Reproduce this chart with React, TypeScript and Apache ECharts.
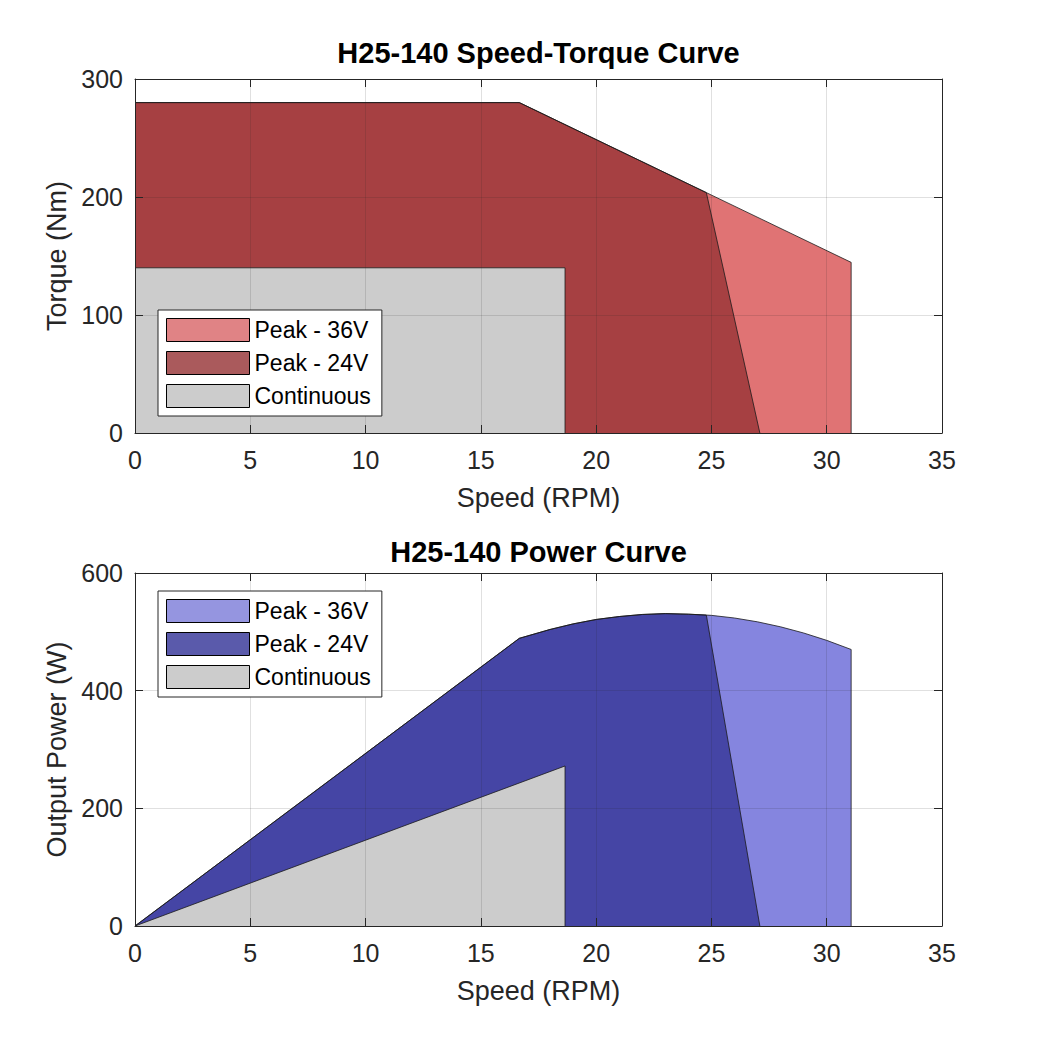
import { useEffect, useRef } from 'react'
import * as echarts from 'echarts'

// 转速-扭矩 / 功率曲线 (H25-140)
const seriesNames = ['Peak - 36V', 'Peak - 24V', 'Continuous']

// 扭矩曲线 [转速 RPM, 扭矩 Nm]
const torquePeak36: [number, number][] = [
  [0, 280], [16.67, 280], [24.78, 203.7], [31.06, 144.6], [31.06, 0],
]
const torquePeak24: [number, number][] = [
  [0, 280], [16.67, 280], [24.78, 203.7], [27.1, 0],
]
const torqueContinuous: [number, number][] = [
  [0, 140], [18.65, 140], [18.65, 0],
]

// 功率曲线 [转速 RPM, 功率 W]
const powerPeak36: [number, number][] = [
  [0, 0], [16.67, 489], [18, 504], [19, 513.5], [20, 521], [21, 526], [22, 529.5],
  [23, 531], [24, 530], [24.78, 528.5], [25, 528], [26, 523.5], [27, 517],
  [28, 508.5], [29, 498], [30, 485.5], [31.06, 470], [31.06, 0],
]
const powerPeak24: [number, number][] = [
  [0, 0], [16.67, 489], [18, 504], [19, 513.5], [20, 521], [21, 526], [22, 529.5],
  [23, 531], [24, 530], [24.78, 528.5], [27.1, 0],
]
const powerContinuous: [number, number][] = [
  [0, 0], [18.65, 272], [18.65, 0],
]

const speedRange = { min: 0, max: 35, interval: 5 }
const torqueRange = { min: 0, max: 300, interval: 100 }
const powerRange = { min: 0, max: 600, interval: 200 }

const titles = ['H25-140 Speed-Torque Curve', 'H25-140 Power Curve']
const xName = 'Speed (RPM)'
const yNames = ['Torque (Nm)', 'Output Power (W)']

const redFills = ['#E07374', '#A64042', '#CCCCCC']
const redSwatches = ['#E08385', '#AA5A5C', '#CCCCCC']
const blueFills = ['#8585DF', '#4545A5', '#CCCCCC']
const blueSwatches = ['#9595E0', '#5A5AAB', '#CCCCCC']

const axisColor = '#262626'
const gridColor = 'rgba(38,38,38,0.14)'
const fontFamily = '"Liberation Sans", Arial, Helvetica, sans-serif'

const GRID_LEFT = 135
const GRID_WIDTH = 807
const GRID_TOPS = [79, 573]
const GRID_HEIGHTS = [354, 353]

function App() {
  const chartRef = useRef<HTMLDivElement>(null)

  useEffect(() => {
    if (!chartRef.current) return
    const chart = echarts.init(chartRef.current, undefined, { renderer: 'svg' })

    const xAxes: any[] = []
    const yAxes: any[] = []
    const yRanges = [torqueRange, powerRange]

    ;[0, 1].forEach(g => {
      const base = {
        gridIndex: g,
        type: 'value',
        z: 3,
        axisLine: { show: true, onZero: false, lineStyle: { color: axisColor, width: 1 } },
        axisTick: { show: true, inside: true, length: 8, lineStyle: { color: axisColor, width: 1 } },
      }
      xAxes.push({
        ...base,
        ...speedRange,
        position: 'bottom',
        name: xName,
        nameLocation: 'middle',
        nameGap: 51,
        nameTextStyle: { fontSize: 27, color: axisColor, fontFamily },
        axisLabel: { fontSize: 25, color: axisColor, margin: 14, fontFamily },
        splitLine: { show: true, lineStyle: { color: gridColor, width: 1 } },
      })
      xAxes.push({
        ...base,
        ...speedRange,
        position: 'top',
        axisLabel: { show: false },
        splitLine: { show: false },
      })
      yAxes.push({
        ...base,
        ...yRanges[g],
        position: 'left',
        name: yNames[g],
        nameLocation: 'middle',
        nameGap: 63,
        nameTextStyle: { fontSize: 27, color: axisColor, fontFamily },
        axisLabel: { fontSize: 25, color: axisColor, margin: 12, fontFamily },
        splitLine: { show: true, lineStyle: { color: gridColor, width: 1 } },
      })
      yAxes.push({
        ...base,
        ...yRanges[g],
        position: 'right',
        axisLabel: { show: false },
        splitLine: { show: false },
      })
    })

    const makeSeries = (data: [number, number][], name: string, color: string, g: number) => ({
      type: 'line',
      name,
      data,
      xAxisIndex: g * 2,
      yAxisIndex: g * 2,
      showSymbol: false,
      symbol: 'none',
      z: 2,
      lineStyle: { color: '#1a1a1a', width: 0.8 },
      itemStyle: { color },
      areaStyle: { color, opacity: 1 },
      emphasis: { disabled: true },
    })

    const makeLegend = (swatches: string[], top: number) => ({
      orient: 'vertical',
      left: 158,
      top,
      z: 4,
      itemWidth: 83,
      itemHeight: 23,
      itemGap: 9,
      padding: [8, 11, 8, 8],
      backgroundColor: '#ffffff',
      borderColor: axisColor,
      borderWidth: 1,
      borderRadius: 0,
      selectedMode: false,
      textStyle: { fontSize: 23, color: '#000', fontFamily },
      data: seriesNames.map((name, i) => ({
        name,
        icon: 'rect',
        itemStyle: { color: swatches[i], borderColor: '#000', borderWidth: 1 },
      })),
    })

    const option: any = {
      animation: false,
      backgroundColor: '#ffffff',
      textStyle: { fontFamily },
      title: titles.map((text, g) => ({
        text,
        left: GRID_LEFT + GRID_WIDTH / 2,
        textAlign: 'center',
        top: g === 0 ? 38 : 537,
        padding: 0,
        textStyle: { fontSize: 29, fontWeight: 'bold', color: '#000', fontFamily },
      })),
      legend: [makeLegend(redSwatches, 310), makeLegend(blueSwatches, 591)],
      grid: [0, 1].map(g => ({
        left: GRID_LEFT,
        width: GRID_WIDTH,
        top: GRID_TOPS[g],
        height: GRID_HEIGHTS[g],
        containLabel: false,
      })),
      xAxis: xAxes,
      yAxis: yAxes,
      series: [
        makeSeries(torquePeak36, seriesNames[0], redFills[0], 0),
        makeSeries(torquePeak24, seriesNames[1], redFills[1], 0),
        makeSeries(torqueContinuous, seriesNames[2], redFills[2], 0),
        makeSeries(powerPeak36, seriesNames[0], blueFills[0], 1),
        makeSeries(powerPeak24, seriesNames[1], blueFills[1], 1),
        makeSeries(powerContinuous, seriesNames[2], blueFills[2], 1),
      ],
    }

    chart.setOption(option, true)

    return () => {
      chart.dispose()
    }
  }, [])

  return (
    <div
      ref={chartRef}
      style={{ position: 'fixed', left: 0, top: 0, width: 1042, height: 1042 }}
    />
  )
}

export default App
